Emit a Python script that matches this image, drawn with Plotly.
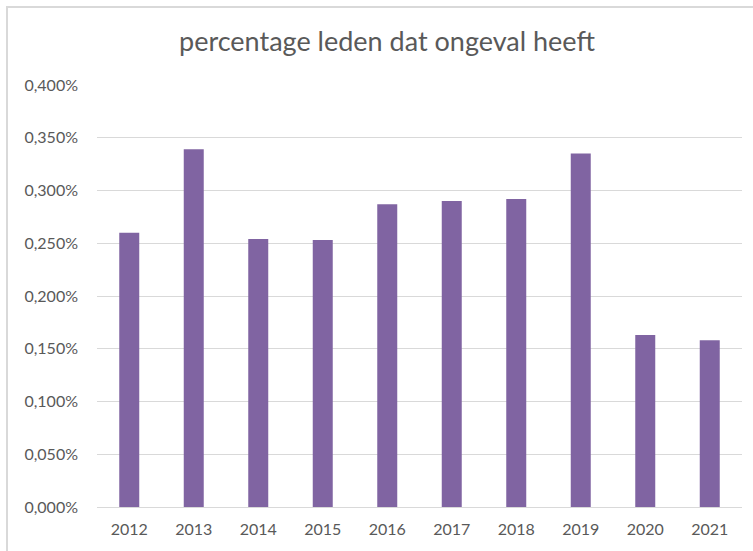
import plotly.graph_objects as go

years = ["2012", "2013", "2014", "2015", "2016", "2017", "2018", "2019", "2020", "2021"]
pct_values = [0.260, 0.339, 0.254, 0.253, 0.287, 0.290, 0.292, 0.335, 0.163, 0.158]  # in percent
title_text = "percentage leden dat ongeval heeft"

W, H = 753, 551
ML, MR, MT, MB = 97, 11, 85, 44
PW, PH = W - ML - MR, H - MT - MB

fig = go.Figure(go.Bar(
    x=years,
    y=[v / 100 for v in pct_values],
    marker=dict(color="#8064A2", line=dict(width=0)),
    width=0.31,
    hoverinfo="x+y",
))

def px_x(p):
    return (p - ML) / PW

def px_y(p):
    return 1 - (p - MT) / PH

border = "#d9d9d9"
fig.update_layout(
    width=W, height=H,
    margin=dict(l=ML, r=MR, t=MT, b=MB),
    paper_bgcolor="white", plot_bgcolor="white",
    separators=",.",
    title=dict(text=title_text, x=387 / W, xref="container", xanchor="center",
               y=1 - 42 / H, yref="container", yanchor="middle",
               font=dict(family="Lato, Open Sans, sans-serif", size=27, color="#595959")),
    font=dict(family="Lato, Open Sans, sans-serif", size=16, color="#595959"),
    showlegend=False,
    xaxis=dict(showgrid=False, showline=True, linecolor="#d9d9d9", linewidth=1,
               ticks="", tickfont=dict(size=16, color="#595959"), ticklabelstandoff=8),
    yaxis=dict(range=[0, 0.004], dtick=0.0005, tickformat=".3%",
               showgrid=True, gridcolor="#d9d9d9", gridwidth=1,
               zeroline=False, showline=False, ticks="",
               tickfont=dict(size=16, color="#595959"), ticklabelstandoff=18),
    shapes=[
        dict(type="line", xref="paper", yref="paper",
             x0=px_x(6), x1=px_x(760), y0=px_y(7), y1=px_y(7),
             line=dict(color=border, width=2)),
        dict(type="line", xref="paper", yref="paper",
             x0=px_x(7), x1=px_x(7), y0=px_y(6), y1=px_y(560),
             line=dict(color=border, width=2)),
    ],
)

fig.write_html("out.html", config={"displayModeBar": False},
               post_script="document.body.style.margin='0';document.body.style.overflow='hidden';")
